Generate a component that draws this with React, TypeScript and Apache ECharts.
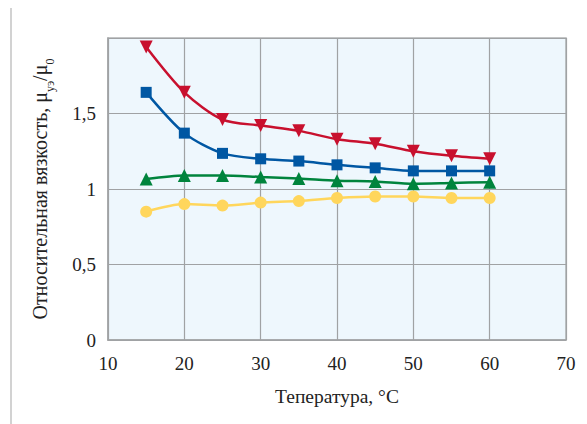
import React, { useEffect, useRef } from "react";
import * as echarts from "echarts";

const temps = [15, 20, 25, 30, 35, 40, 45, 50, 55, 60];
const redValues = [1.94, 1.64, 1.46, 1.42, 1.385, 1.33, 1.30, 1.25, 1.22, 1.20];
const blueValues = [1.64, 1.37, 1.236, 1.20, 1.185, 1.16, 1.14, 1.12, 1.12, 1.12];
const greenValues = [1.066, 1.09, 1.09, 1.08, 1.07, 1.055, 1.05, 1.035, 1.04, 1.045];
const yellowValues = [0.85, 0.9, 0.89, 0.91, 0.92, 0.94, 0.95, 0.95, 0.94, 0.94];

const xTitle = "Тепература, °C";
const yTitle = "Относительная вязкость, μ{s|уэ}/μ{s|0}";

const FONT = "Liberation Serif";

export default function App() {
  const ref = useRef<HTMLDivElement>(null);
  useEffect(() => {
    if (!ref.current) return;
    const chart = echarts.init(ref.current, null, { renderer: "svg" });
    const mk = (name: string, vals: number[], color: string, symbol: string, size: number, rotate = 0) => ({
      name,
      type: "line",
      smooth: 0.28,
      data: temps.map((t, i) => [t, vals[i]]),
      symbol,
      symbolSize: size,
      symbolRotate: rotate,
      lineStyle: { color, width: 2.5 },
      itemStyle: { color },
      z: 3,
    });
    chart.setOption({
      animation: false,
      backgroundColor: "#ffffff",
      graphic: [
        {
          type: "rect",
          shape: { x: 3, y: -1, width: 700, height: 600 },
          style: { fill: "none", stroke: "#c4c4c4", lineWidth: 1.5 },
          silent: true,
        },
      ],
      grid: {
        left: 100,
        top: 30,
        width: 458,
        height: 302,
        show: true,
        backgroundColor: "#eef7fd",
        borderColor: "#b0b2b4",
        borderWidth: 1.5,
      },
      xAxis: {
        type: "value",
        min: 10,
        max: 70,
        interval: 10,
        axisLine: { show: true, lineStyle: { color: "#a0a2a4", width: 1.5 } },
        axisTick: { show: false },
        splitLine: { show: true, lineStyle: { color: "#a0a2a4", width: 1.2 } },
        axisLabel: { color: "#222", fontFamily: FONT, fontSize: 19, margin: 14 },
        name: xTitle,
        nameLocation: "middle",
        nameGap: 46,
        nameTextStyle: { color: "#222", fontFamily: FONT, fontSize: 19.5 },
      },
      yAxis: {
        type: "value",
        min: 0,
        max: 2,
        interval: 0.5,
        axisLine: { show: true, lineStyle: { color: "#a0a2a4", width: 1.5 } },
        axisTick: { show: false },
        splitLine: { show: true, lineStyle: { color: "#a0a2a4", width: 1.2 } },
        axisLabel: {
          color: "#222",
          fontFamily: FONT,
          fontSize: 19,
          margin: 12,
          showMaxLabel: false,
          formatter: (v: number) => String(v).replace(".", ","),
        },
        name: yTitle,
        nameLocation: "middle",
        nameGap: 58,
        nameTextStyle: {
          color: "#222",
          fontFamily: FONT,
          fontSize: 20,
          rich: {
            s: { fontFamily: FONT, fontSize: 12, color: "#222", verticalAlign: "bottom", padding: [0, 0, -6, 0] },
          },
        },
      },
      series: [
        mk("red", redValues, "#c8102e", "triangle", 13, 180),
        mk("blue", blueValues, "#0057a3", "rect", 11),
        mk("green", greenValues, "#00843d", "triangle", 13),
        mk("yellow", yellowValues, "#ffd65c", "circle", 12),
      ],
    });
    return () => chart.dispose();
  }, []);
  return <div ref={ref} style={{ width: 579, height: 416 }} />;
}
